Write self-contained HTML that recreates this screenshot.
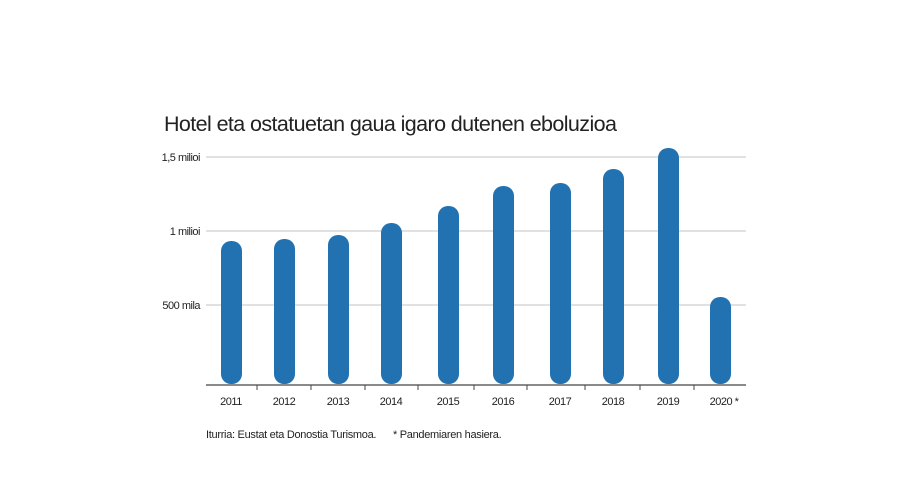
<!DOCTYPE html>
<html><head><style>
body{margin:0;background:#fff;}
svg text{font-family:"Liberation Sans",sans-serif;fill:#222;}
</style></head><body>
<svg width="900" height="487" xmlns="http://www.w3.org/2000/svg">
<text x="164" y="131" font-size="21.5" letter-spacing="-0.6">Hotel eta ostatuetan gaua igaro dutenen eboluzioa</text>
<g stroke="#cfcfcf" stroke-width="1.3">
<line x1="206" y1="157" x2="746" y2="157"/>
<line x1="206" y1="231" x2="746" y2="231"/>
<line x1="206" y1="305" x2="746" y2="305"/>
</g>
<g font-size="11" text-anchor="end" letter-spacing="-0.5">
<text x="200" y="161">1,5 milioi</text>
<text x="200" y="235">1 milioi</text>
<text x="200" y="309">500 mila</text>
</g>
<g fill="#2271b0">
<rect x="221" y="241" width="21" height="143" rx="10"/>
<rect x="274" y="239" width="21" height="145" rx="10"/>
<rect x="328" y="235" width="21" height="149" rx="10"/>
<rect x="381" y="223" width="21" height="161" rx="10"/>
<rect x="438" y="206" width="21" height="178" rx="10"/>
<rect x="493" y="186" width="21" height="198" rx="10"/>
<rect x="550" y="183" width="21" height="201" rx="10"/>
<rect x="603" y="169" width="21" height="215" rx="10"/>
<rect x="658" y="148" width="21" height="236" rx="10"/>
<rect x="710" y="297" width="21" height="87" rx="10"/>
</g>
<line x1="206" y1="385" x2="746" y2="385" stroke="#444" stroke-width="1.3"/>
<g stroke="#444" stroke-width="1">
<line x1="257" y1="385" x2="257" y2="390"/><line x1="311" y1="385" x2="311" y2="390"/>
<line x1="365" y1="385" x2="365" y2="390"/><line x1="418" y1="385" x2="418" y2="390"/>
<line x1="474" y1="385" x2="474" y2="390"/><line x1="527" y1="385" x2="527" y2="390"/>
<line x1="585" y1="385" x2="585" y2="390"/><line x1="640" y1="385" x2="640" y2="390"/>
<line x1="694" y1="385" x2="694" y2="390"/>
</g>
<g font-size="11" text-anchor="middle" letter-spacing="-0.5">
<text x="231" y="405">2011</text><text x="284" y="405">2012</text><text x="338" y="405">2013</text>
<text x="391" y="405">2014</text><text x="448" y="405">2015</text><text x="503" y="405">2016</text>
<text x="560" y="405">2017</text><text x="613" y="405">2018</text><text x="668" y="405">2019</text>
<text x="724" y="405">2020 *</text>
</g>
<text x="206" y="438" font-size="11" letter-spacing="-0.3">Iturria: Eustat eta Donostia Turismoa.</text>
<text x="393" y="438" font-size="11" letter-spacing="-0.3">* Pandemiaren hasiera.</text>
</svg>
</body></html>
